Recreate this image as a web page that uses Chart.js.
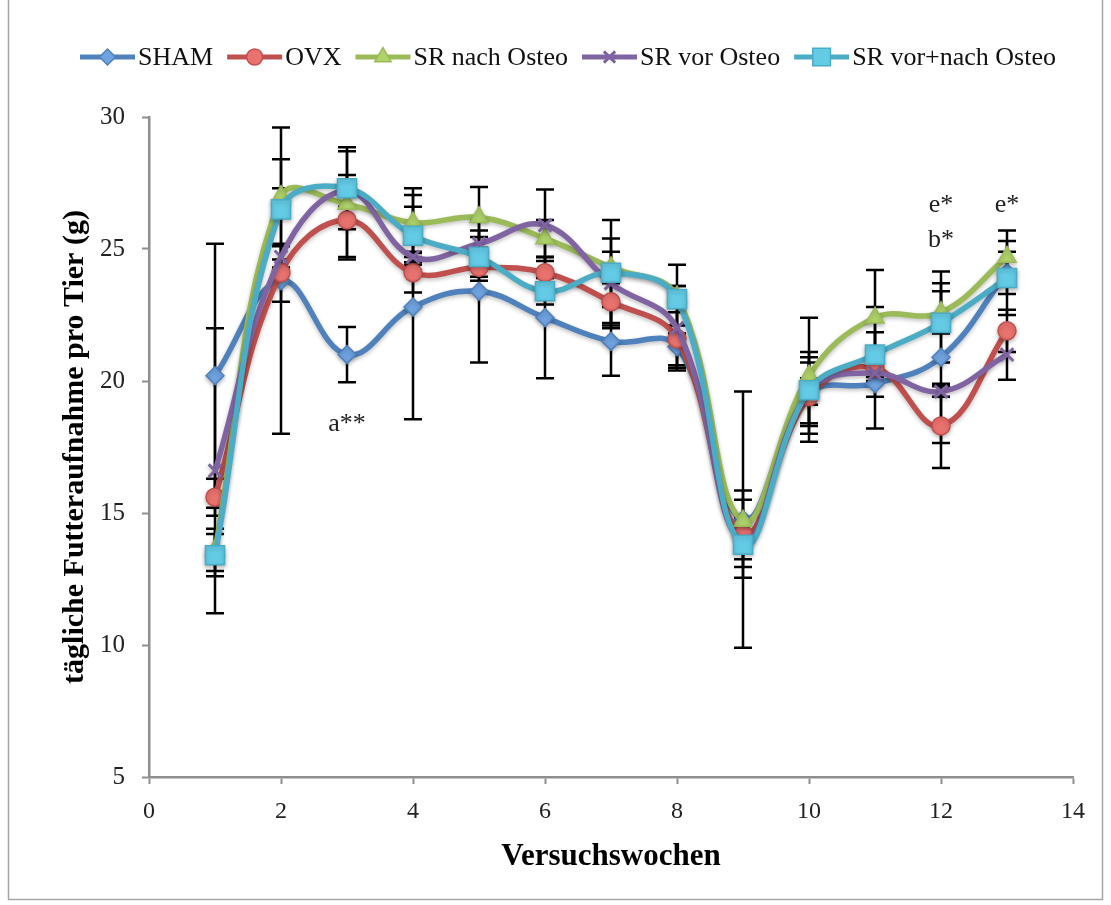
<!DOCTYPE html>
<html lang="de">
<head>
    <meta charset="UTF-8">
    <title>Tägliche Futteraufnahme</title>
    <script src="https://cdn.jsdelivr.net/npm/chart.js"></script>
    <style>
        body {
            margin: 0;
            background-color: #fff;
        }
        canvas {
            display: block;
        }
    </style>
</head>
<body>
    <canvas id="futterChart" width="1111" height="905"></canvas>

    <script>
        // Versuchswochen
        const weeks = [1, 2, 3, 4, 5, 6, 7, 8, 9, 10, 11, 12, 13];

        // Mittelwerte (g)
        const sham      = [20.2, 23.8, 21.0, 22.8, 23.4, 22.4, 21.5, 21.3, 14.75, 19.5, 19.9, 20.9, 24.1];
        const ovx       = [15.6, 24.1, 26.1, 24.1, 24.3, 24.1, 23.0, 21.6, 14.2, 19.4, 20.5, 18.3, 21.9];
        const srNach    = [13.6, 27.0, 26.7, 26.0, 26.2, 25.4, 24.3, 23.2, 14.7, 20.2, 22.4, 22.6, 24.7];
        const srVor     = [16.6, 24.7, 27.2, 24.7, 25.2, 25.9, 23.7, 22.0, 13.9, 19.6, 20.3, 19.6, 21.0];
        const srVorNach = [13.4, 26.5, 27.3, 25.5, 24.7, 23.4, 24.1, 23.1, 13.8, 19.65, 21.0, 22.2, 23.9];

        // Standardabweichungen (+/-)
        const shamErr      = [5.0, 5.8, 1.05, 4.25, 2.7, 2.3, 1.3, 0.8, 4.85, 1.2, 0.5, 3.25, 0.8];
        const ovxErr       = [0.7, 1.1, 1.5, 0.75, 0.5, 0.6, 0.8, 1.0, 1.65, 1.7, 2.3, 1.6, 0.8];
        const srNachErr    = [0.8, 0.3, 2.0, 1.3, 1.15, 0.7, 0.6, 0.4, 0.8, 2.2, 1.8, 0.8, 1.0];
        const srVorErr     = [5.4, 0.4, 0.6, 0.2, 0.5, 1.35, 1.7, 1.6, 0.95, 0.5, 0.3, 0.2, 0.95];
        const srVorNachErr = [0.8, 1.9, 1.55, 1.1, 0.75, 0.5, 2.0, 1.3, 0.55, 1.25, 0.85, 1.5, 1.4];

        const xTicks = [0, 2, 4, 6, 8, 10, 12, 14];
        const yTicks = [5, 10, 15, 20, 25, 30];

        // Signifikanz-Markierungen
        const notes = [
            { week: 3, value: 18.35, text: 'a**' },
            { week: 12, value: 26.65, text: 'e*' },
            { week: 12, value: 25.35, text: 'b*' },
            { week: 13, value: 26.65, text: 'e*' }
        ];

        const FONT = '"Liberation Serif", "Times New Roman", serif';

        function points(values) {
            return weeks.map((w, i) => ({ x: w, y: values[i] }));
        }

        function series(label, values, errors, color, fill, style, radius, order) {
            return {
                label: label,
                data: points(values),
                errors: errors,
                borderColor: color,
                backgroundColor: color,
                borderWidth: 5.5,
                tension: 0.4,
                pointStyle: style,
                pointRadius: radius,
                pointHoverRadius: radius,
                pointBackgroundColor: fill,
                pointBorderColor: color,
                pointBorderWidth: style === 'crossRot' ? 3 : 1.5,
                order: order
            };
        }

        // Fehlerbalken hinter den Linien
        const errorBars = {
            id: 'errorBars',
            beforeDatasetsDraw(chart) {
                const ctx = chart.ctx;
                const xs = chart.scales.x, ys = chart.scales.y;
                ctx.save();
                ctx.strokeStyle = '#000';
                ctx.lineWidth = 2.5;
                chart.data.datasets.forEach(ds => {
                    ds.data.forEach((p, i) => {
                        const e = ds.errors[i];
                        const x = xs.getPixelForValue(p.x);
                        const top = ys.getPixelForValue(p.y + e);
                        const bot = ys.getPixelForValue(p.y - e);
                        ctx.beginPath();
                        ctx.moveTo(x, top); ctx.lineTo(x, bot);
                        ctx.moveTo(x - 9, top); ctx.lineTo(x + 9, top);
                        ctx.moveTo(x - 9, bot); ctx.lineTo(x + 9, bot);
                        ctx.stroke();
                    });
                });
                ctx.restore();
            },
            beforeDatasetDraw(chart) {
                const ctx = chart.ctx;
                ctx.save();
                ctx.shadowColor = 'rgba(0,0,0,0.25)';
                ctx.shadowBlur = 4;
                ctx.shadowOffsetY = 2;
            },
            afterDatasetDraw(chart) {
                chart.ctx.restore();
            }
        };

        // Legende mit Linie + Marker, Rahmen, Anmerkungen
        const extras = {
            id: 'extras',
            beforeDraw(chart) {
                const ctx = chart.ctx;
                ctx.save();
                ctx.fillStyle = '#fff';
                ctx.fillRect(0, 0, chart.width, chart.height);
                ctx.strokeStyle = '#a6a6a6';
                ctx.lineWidth = 1.5;
                ctx.beginPath();
                ctx.moveTo(8.5, 0); ctx.lineTo(8.5, 899.5);
                ctx.lineTo(1102.5, 899.5); ctx.lineTo(1102.5, 0);
                ctx.stroke();
                ctx.restore();
            },
            afterDraw(chart) {
                const ctx = chart.ctx;
                const xs = chart.scales.x, ys = chart.scales.y;
                ctx.save();

                ctx.font = '26px ' + FONT;
                ctx.textBaseline = 'middle';
                const lineLen = 55, gap = 3, spacing = 14;
                const items = chart.data.datasets.map(ds => ({ ds: ds, w: ctx.measureText(ds.label).width }));
                const total = items.reduce((s, it) => s + lineLen + gap + it.w, 0) + spacing * (items.length - 1);
                let x = 568 - total / 2;
                const y = 57;
                items.forEach(it => {
                    const ds = it.ds;
                    ctx.strokeStyle = ds.borderColor;
                    ctx.lineWidth = 5;
                    ctx.beginPath();
                    ctx.moveTo(x, y); ctx.lineTo(x + lineLen, y);
                    ctx.stroke();
                    ctx.fillStyle = ds.pointBackgroundColor;
                    ctx.strokeStyle = ds.pointBorderColor;
                    ctx.lineWidth = ds.pointBorderWidth;
                    Chart.helpers.drawPoint(ctx, {
                        pointStyle: ds.pointStyle,
                        radius: ds.pointRadius - 1,
                        borderWidth: ds.pointBorderWidth,
                        rotation: 0
                    }, x + lineLen / 2, y);
                    ctx.fillStyle = '#111';
                    ctx.textAlign = 'left';
                    ctx.fillText(ds.label, x + lineLen + gap, y + 1);
                    x += lineLen + gap + it.w + spacing;
                });

                ctx.font = '26px ' + FONT;
                ctx.textAlign = 'center';
                ctx.fillStyle = '#222';
                notes.forEach(n => {
                    ctx.fillText(n.text, xs.getPixelForValue(n.week), ys.getPixelForValue(n.value));
                });
                ctx.restore();
            }
        };

        const ctx = document.getElementById('futterChart').getContext('2d');
        const futterChart = new Chart(ctx, {
            type: 'line',
            data: {
                datasets: [
                    series('SHAM', sham, shamErr, '#4f81bd', '#6fa3e0', 'rectRot', 9, 5),
                    series('OVX', ovx, ovxErr, '#c0504d', '#e8726e', 'circle', 9, 4),
                    series('SR nach Osteo', srNach, srNachErr, '#9bbb59', '#b0d46a', 'triangle', 10.5, 3),
                    series('SR vor Osteo', srVor, srVorErr, '#8064a2', '#8064a2', 'crossRot', 9, 2),
                    series('SR vor+nach Osteo', srVorNach, srVorNachErr, '#4bacc6', '#63cbe6', 'rect', 13.5, 1)
                ]
            },
            options: {
                responsive: false,
                animation: false,
                layout: {
                    padding: { left: 57, right: 38, top: 117, bottom: 29 }
                },
                plugins: {
                    legend: { display: false },
                    tooltip: { enabled: false }
                },
                scales: {
                    x: {
                        type: 'linear',
                        min: 0,
                        max: 14,
                        afterBuildTicks: s => { s.ticks = xTicks.map(v => ({ value: v })); },
                        afterFit: s => { s.height = 99; },
                        grid: {
                            drawOnChartArea: false,
                            tickLength: 7,
                            tickColor: '#8e8e8e',
                            tickWidth: 2
                        },
                        border: { color: '#8e8e8e', width: 2.5 },
                        ticks: {
                            padding: 13,
                            color: '#222',
                            maxRotation: 0,
                            font: { family: FONT, size: 24 }
                        },
                        title: {
                            display: true,
                            text: 'Versuchswochen',
                            color: '#000',
                            padding: { top: 10, bottom: 0 },
                            font: { family: FONT, size: 31, weight: 'bold' }
                        }
                    },
                    y: {
                        min: 5,
                        max: 30,
                        afterBuildTicks: s => { s.ticks = yTicks.map(v => ({ value: v })); },
                        afterFit: s => { s.width = 92; },
                        grid: {
                            drawOnChartArea: false,
                            tickLength: 7,
                            tickColor: '#8e8e8e',
                            tickWidth: 2
                        },
                        border: { color: '#8e8e8e', width: 2.5 },
                        ticks: {
                            padding: 17,
                            color: '#222',
                            font: { family: FONT, size: 25 }
                        },
                        title: {
                            display: true,
                            text: 'tägliche Futteraufnahme pro Tier (g)',
                            color: '#000',
                            padding: { top: 0, bottom: 0 },
                            font: { family: FONT, size: 30, weight: 'bold' }
                        }
                    }
                }
            },
            plugins: [errorBars, extras]
        });
    </script>
</body>
</html>
